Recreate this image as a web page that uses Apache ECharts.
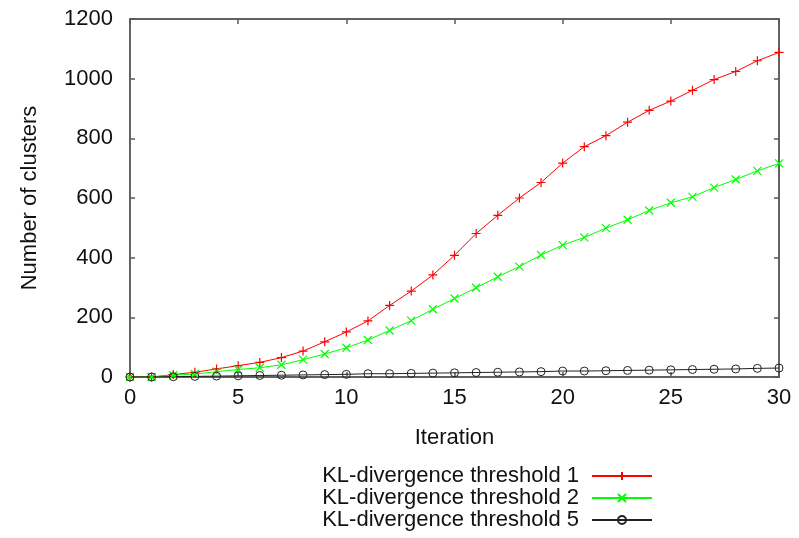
<!DOCTYPE html>
<html lang="en">
<head>
    <meta charset="UTF-8">
    <title>Number of clusters per iteration</title>
    <script src="https://cdn.jsdelivr.net/npm/echarts@6/dist/echarts.min.js"></script>
</head>
<body style="margin: 0; background: #fff">
<div id="container" style="width: 799px; height: 538px"></div>
<script>
    // 迭代次数
    var iterations = [0, 1, 2, 3, 4, 5, 6, 7, 8, 9, 10, 11, 12, 13, 14, 15, 16, 17, 18, 19, 20, 21, 22, 23, 24, 25, 26, 27, 28, 29, 30];
    var threshold1 = [0, 0, 8, 16, 27, 38, 49, 65, 87, 118, 151, 188, 240, 288, 342, 408, 481, 542, 600, 652, 717, 772, 809, 854, 894, 925, 961, 997, 1024, 1060, 1088];
    var threshold2 = [0, 0, 6, 10, 18, 25, 31, 41, 58, 77, 98, 124, 156, 189, 227, 263, 299, 336, 370, 409, 442, 468, 499, 527, 558, 584, 604, 635, 662, 691, 716];
    var threshold5 = [0, 0, 1, 2, 3, 4, 5, 6, 7, 8, 9, 11, 11, 12, 13, 14, 15, 16, 17, 18, 20, 20, 21, 22, 23, 24, 25, 26, 27, 29, 30];
    var seriesNames = ['KL-divergence threshold 1', 'KL-divergence threshold 2', 'KL-divergence threshold 5'];

    var plusPath = 'path://M5,0L5,10M0,5L10,5';
    var crossPath = 'path://M0,0L10,10M0,10L10,0';

    function pairs(ys) {
        return iterations.map(function (x, i) { return [x, ys[i]]; });
    }

    var font = 'Liberation Sans, Arial, sans-serif';
    var frameColor = '#5a5a5a';
    var myChart = echarts.init(document.getElementById('container'));

    var frameAxis = {
        axisLine: {show: true, onZero: false, lineStyle: {color: frameColor, width: 1.5}},
        axisTick: {show: true, inside: true, length: 5, lineStyle: {color: frameColor, width: 1.5}},
        splitLine: {show: false}
    };

    var option = {
        animation: false,
        grid: {left: 130, right: 20, top: 19, bottom: 161, show: true, borderColor: frameColor, borderWidth: 1.5},
        xAxis: [
            Object.assign({
                type: 'value', min: 0, max: 30, interval: 5, position: 'bottom',
                name: 'Iteration', nameLocation: 'middle', nameGap: 50,
                nameTextStyle: {color: '#111', fontSize: 22, fontFamily: font},
                axisLabel: {color: '#111', fontSize: 22, fontFamily: font, margin: 10}
            }, frameAxis),
            Object.assign({
                type: 'value', min: 0, max: 30, interval: 5, position: 'top',
                axisLabel: {show: false}
            }, frameAxis)
        ],
        yAxis: [
            Object.assign({
                type: 'value', min: 0, max: 1200, interval: 200, position: 'left',
                name: 'Number of clusters', nameLocation: 'middle', nameGap: 89,
                nameTextStyle: {color: '#111', fontSize: 22, fontFamily: font},
                axisLabel: {color: '#111', fontSize: 22, fontFamily: font, margin: 17,
                    formatter: function (v) { return String(v); }}
            }, frameAxis),
            Object.assign({
                type: 'value', min: 0, max: 1200, interval: 200, position: 'right',
                axisLabel: {show: false}
            }, frameAxis)
        ],
        legend: {
            orient: 'vertical',
            right: 141,
            top: 460,
            align: 'right',
            itemWidth: 60,
            itemHeight: 10,
            itemGap: 0,
            textStyle: {color: '#111', fontSize: 22, fontFamily: font, padding: [0, 8, 0, 0]},
            data: seriesNames
        },
        series: [
            {
                name: seriesNames[0], type: 'line', data: pairs(threshold1),
                symbol: plusPath, symbolSize: 9, showAllSymbol: true,
                lineStyle: {color: '#ff0000', width: 1},
                itemStyle: {color: '#ff0000', borderColor: '#ff0000', borderWidth: 1.2}
            },
            {
                name: seriesNames[1], type: 'line', data: pairs(threshold2),
                xAxisIndex: 1, yAxisIndex: 1,
                symbol: crossPath, symbolSize: 8, showAllSymbol: true,
                lineStyle: {color: '#00ff00', width: 1},
                itemStyle: {color: '#00ff00', borderColor: '#00ff00', borderWidth: 1.2}
            },
            {
                name: seriesNames[2], type: 'line', data: pairs(threshold5),
                symbol: 'circle', symbolSize: 8, showAllSymbol: true,
                lineStyle: {color: '#222', width: 1},
                itemStyle: {color: 'rgba(0,0,0,0)', borderColor: '#222', borderWidth: 1}
            }
        ]
    };

    myChart.setOption(option, true);
</script>
</body>
</html>
